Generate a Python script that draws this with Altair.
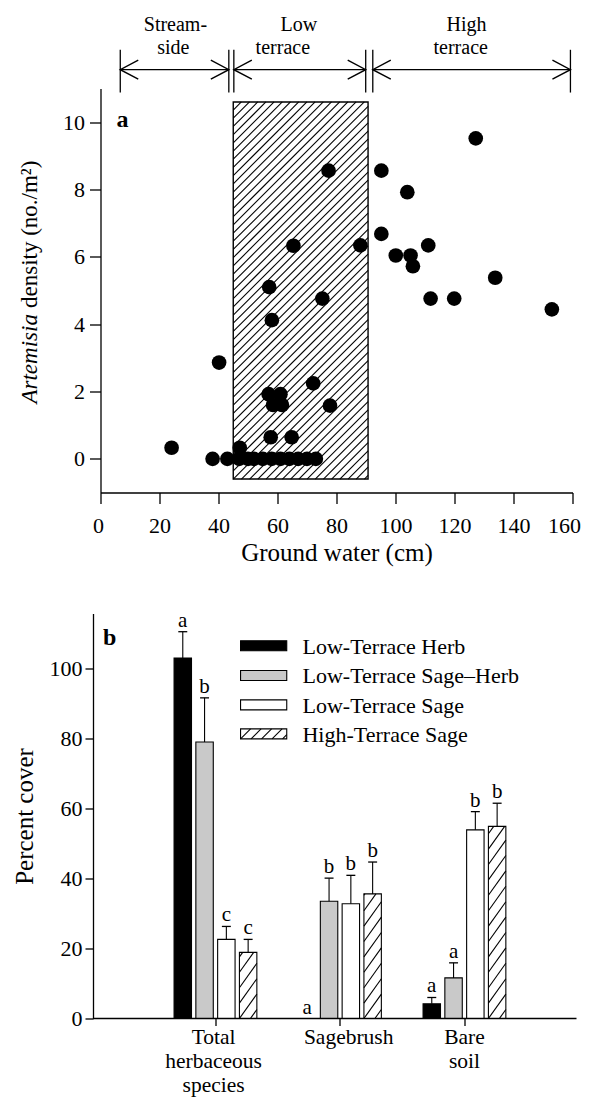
import altair as alt
import pandas as pd

FONT = "Liberation Serif"

# ---------------- Panel a data ----------------
water_cm = [38, 43, 47, 50, 52, 55, 58, 61, 64, 67, 70, 73,
            24.1, 47.2, 57.7, 64.8, 57.0, 61.0, 58.5, 61.5, 77.8, 72.1, 40.2,
            58.1, 75.2, 57.2, 65.4, 88.1, 77.3, 95.2, 104.0, 95.2, 111.1,
            100.1, 105.1, 105.9, 133.8, 111.9, 119.9, 153.0, 127.2]
density = [0, 0, 0, 0, 0, 0, 0, 0, 0, 0, 0, 0,
           0.33, 0.33, 0.64, 0.64, 1.92, 1.92, 1.6, 1.6, 1.58, 2.24, 2.86,
           4.12, 4.76, 5.10, 6.33, 6.34, 8.56, 8.56, 7.92, 6.68, 6.34,
           6.04, 6.04, 5.72, 5.38, 4.76, 4.76, 4.44, 9.52]

# low-terrace shaded zone (ground water range, density range)
low_zone_x = [45.0, 90.7]
low_zone_y = [-0.6, 10.6]

# zone arrows above the plot
zone_start = [6.7, 45.2, 92.3]
zone_end = [43.5, 89.9, 159.3]
zone_line1 = ["Stream-", "Low", "High"]
zone_line2 = ["side", "terrace", "terrace"]
zone_line1_x = [25.4, 67.2, 124.1]
zone_line2_x = [24.7, 61.8, 122.1]

# ---------------- Panel b data ----------------
cat_names = ["Total\nherbaceous\nspecies", "Sagebrush", "Bare\nsoil"]
cat_label_x = [0.985, 2.07, 3.0]
series_names = ["Low-Terrace Herb", "Low-Terrace Sage\u2013Herb",
                "Low-Terrace Sage", "High-Terrace Sage"]
cover_herb = [103.0, 0.0, 4.2]
cover_sageherb = [79.0, 33.5, 11.6]
cover_sage = [22.6, 32.8, 53.9]
cover_high = [18.9, 35.6, 54.9]
se_herb = [7.5, 0.0, 1.8]
se_sageherb = [12.6, 6.6, 4.3]
se_sage = [3.7, 8.1, 5.2]
se_high = [3.7, 9.1, 6.6]
let_herb = ["a", "a", "a"]
let_sageherb = ["b", "b", "a"]
let_sage = ["c", "b", "b"]
let_high = ["c", "b", "b"]
legend_y = [106.5, 98.0, 89.6, 81.3]

# ---------------- geometry ----------------
WA, HA = 472, 404
XA_DOM, YA_DOM = [0, 160], [-1, 11]
WB, HB = 476, 405
XB_DOM, YB_DOM = [0.0766, 3.9], [0, 115.7]
SXA = WA / (XA_DOM[1] - XA_DOM[0]); SYA = HA / (YA_DOM[1] - YA_DOM[0])
SXB = WB / (XB_DOM[1] - XB_DOM[0]); SYB = HB / (YB_DOM[1] - YB_DOM[0])


def hatch(x0, x1, y0, y1, sx, sy, period, slope):
    """diagonal '/' hatch lines clipped to a rectangle (data units)."""
    X0, X1, Y0, Y1 = x0 * sx, x1 * sx, y0 * sy, y1 * sy
    H = Y1 - Y0
    segs = []
    n = int(H / slope / period) + 2
    c = X0 - n * period
    while c < X1:
        xs = max(c, X0)
        xe = min(c + H / slope, X1)
        if xe > xs + 0.4:
            ys = Y0 + slope * (xs - c)
            ye = Y0 + slope * (xe - c)
            segs.append({"x": xs / sx, "y": ys / sy, "x2": xe / sx, "y2": ye / sy})
        c += period
    return segs


# ================= Panel a =================
scx_a = alt.Scale(domain=XA_DOM, nice=False, zero=False)
scy_a = alt.Scale(domain=YA_DOM, nice=False, zero=False)
ax_x_a = alt.Axis(values=list(range(0, 161, 20)), title="Ground water (cm)", tickSize=11,
                  labelPadding=12, labelFontSize=22, titleFontSize=25, titlePadding=4,
                  labelFont=FONT, titleFont=FONT, grid=False, labelFlush=True,
                  labelFlushOffset=8)
ax_y_a = alt.Axis(values=[0, 2, 4, 6, 8, 10], title=None, tickSize=11, labelPadding=5,
                  labelFontSize=22, labelFont=FONT, grid=False)


def XA(f="x"):
    return alt.X(f"{f}:Q", scale=scx_a, axis=ax_x_a)


def YA(f="y"):
    return alt.Y(f"{f}:Q", scale=scy_a, axis=ax_y_a)


pts = pd.DataFrame({"x": water_cm, "y": density})
zone_df = pd.DataFrame([{"x": low_zone_x[0], "x2": low_zone_x[1],
                         "y": low_zone_y[0], "y2": low_zone_y[1]}])
hatch_a = pd.DataFrame(hatch(low_zone_x[0], low_zone_x[1], low_zone_y[0], low_zone_y[1],
                             SXA, SYA, 8.2, 1.0))

ARROW_Y = 11.56
BAR_Y = [10.88, 12.15]
arrow_lines = pd.DataFrame({"x": zone_start, "x2": zone_end, "y": [ARROW_Y] * 3})
bars_v = pd.DataFrame({"x": zone_start + zone_end, "y": [BAR_Y[0]] * 6, "y2": [BAR_Y[1]] * 6})
heads_left = pd.DataFrame({"x": zone_start, "y": [ARROW_Y] * 3})
heads_right = pd.DataFrame({"x": zone_end, "y": [ARROW_Y] * 3})
hdr1 = pd.DataFrame({"x": zone_line1_x, "y": [12.70] * 3, "t": zone_line1})
hdr2 = pd.DataFrame({"x": zone_line2_x, "y": [12.03] * 3, "t": zone_line2})

a_layers = [
    alt.Chart(zone_df).mark_rect(fill="white", stroke="black", strokeWidth=1.4).encode(
        x=XA(), x2="x2:Q", y=YA(), y2="y2:Q"),
    alt.Chart(hatch_a).mark_rule(color="black", strokeWidth=1.1).encode(
        x=XA(), x2="x2:Q", y=YA(), y2="y2:Q"),
    alt.Chart(pts).mark_circle(size=215, color="black", opacity=1).encode(x=XA(), y=YA()),
    alt.Chart(arrow_lines).mark_rule(color="black", strokeWidth=1.3).encode(
        x=XA(), x2="x2:Q", y=YA()),
    alt.Chart(bars_v).mark_rule(color="black", strokeWidth=1.3).encode(
        x=XA(), y=YA(), y2="y2:Q"),
    alt.Chart(heads_left).mark_point(shape="M2,-1.05L0,0L2,1.05", size=324, filled=False,
                                     color="black", strokeWidth=1.4, opacity=1).encode(
        x=XA(), y=YA()),
    alt.Chart(heads_right).mark_point(shape="M-2,-1.05L0,0L-2,1.05", size=324, filled=False,
                                      color="black", strokeWidth=1.4, opacity=1).encode(
        x=XA(), y=YA()),
    alt.Chart(hdr1).mark_text(fontSize=20, font=FONT, align="center", baseline="alphabetic",
                              color="black").encode(x=XA(), y=YA(), text="t:N"),
    alt.Chart(hdr2).mark_text(fontSize=20, font=FONT, align="center", baseline="alphabetic",
                              color="black").encode(x=XA(), y=YA(), text="t:N"),
    alt.Chart(pd.DataFrame({"x": [5.4], "y": [9.85], "t": ["a"]})).mark_text(
        fontSize=24, font=FONT, fontWeight="bold", align="left", baseline="alphabetic",
        color="black").encode(x=XA(), y=YA(), text="t:N"),
    alt.Chart(pd.DataFrame({"y": [4.3], "t": ["Artemisia"]})).mark_text(
        fontSize=23, font=FONT, fontStyle="italic", angle=270, align="right",
        baseline="middle", color="black").encode(x=alt.value(-71), y=YA(), text="t:N"),
    alt.Chart(pd.DataFrame({"y": [4.48], "t": ["density (no./m\u00b2)"]})).mark_text(
        fontSize=23, font=FONT, angle=270, align="left",
        baseline="middle", color="black").encode(x=alt.value(-71), y=YA(), text="t:N"),
]
panel_a = alt.layer(*a_layers).properties(width=WA, height=HA)

# ================= Panel b =================
scx_b = alt.Scale(domain=XB_DOM, nice=False, zero=False)
scy_b = alt.Scale(domain=YB_DOM, nice=False, zero=False)
ax_x_b = alt.Axis(values=[1, 2, 3], labels=False, title=None, tickSize=7, domain=False,
                  grid=False)
ax_y_b = alt.Axis(values=[0, 20, 40, 60, 80, 100], title="Percent cover", tickSize=8,
                  labelPadding=3, labelFontSize=22, titleFontSize=25, titlePadding=12,
                  labelFont=FONT, titleFont=FONT, offset=7.5, grid=False)


def XB(f="x"):
    return alt.X(f"{f}:Q", scale=scx_b, axis=ax_x_b)


def YB(f="y"):
    return alt.Y(f"{f}:Q", scale=scy_b, axis=ax_y_b)


OFFS = [-1.5, -0.5, 0.5, 1.5]
STEP, HALF = 0.175, 0.07
vals = [cover_herb, cover_sageherb, cover_sage, cover_high]
ses = [se_herb, se_sageherb, se_sage, se_high]
lets = [let_herb, let_sageherb, let_sage, let_high]
rows = []
for i, s in enumerate(series_names):
    for j in range(3):
        c = (j + 1) + OFFS[i] * STEP
        v = vals[i][j]
        rows.append({"series": s, "cx": c, "x": c - HALF, "x2": c + HALF, "y": 0.0, "y2": v,
                     "top": v + ses[i][j], "se": ses[i][j], "letter": lets[i][j],
                     "cl": c - 0.036, "cr": c + 0.036})
bdf = pd.DataFrame(rows)
bars_df = bdf[bdf["y2"] > 0]
err_df = bdf[bdf["se"] > 0]

hatch_rows = []
for _, r in bdf[bdf["series"] == series_names[3]].iterrows():
    hatch_rows += hatch(r["x"], r["x2"], 0, r["y2"], SXB, SYB, 11.0, 1.4)
leg_rows = []
for i, s in enumerate(series_names):
    leg_rows.append({"series": s, "x": 1.2016, "x2": 1.5726, "y": legend_y[i] - 1.43,
                     "y2": legend_y[i] + 1.43, "tx": 1.699, "ty": legend_y[i]})
leg_df = pd.DataFrame(leg_rows)
hatch_rows += hatch(1.2016, 1.5726, legend_y[3] - 1.43, legend_y[3] + 1.43, SXB, SYB, 10.5, 1.0)
hatch_b = pd.DataFrame(hatch_rows)

fill_scale = alt.Scale(domain=series_names, range=["black", "#c9c9c9", "white", "white"])
cats_df = pd.DataFrame({"x": cat_label_x, "y": [0, 0, 0], "t": cat_names})

b_layers = [
    alt.Chart(bars_df).mark_rect(stroke="black", strokeWidth=1.1).encode(
        x=XB(), x2="x2:Q", y=YB(), y2="y2:Q",
        fill=alt.Fill("series:N", scale=fill_scale, legend=None)),
    alt.Chart(leg_df).mark_rect(stroke="black", strokeWidth=1.1).encode(
        x=XB(), x2="x2:Q", y=YB(), y2="y2:Q",
        fill=alt.Fill("series:N", scale=fill_scale, legend=None)),
    alt.Chart(hatch_b).mark_rule(color="black", strokeWidth=1.1).encode(
        x=XB(), x2="x2:Q", y=YB(), y2="y2:Q"),
    alt.Chart(err_df).mark_rule(color="black", strokeWidth=1.1).encode(
        x=XB("cx"), y=YB("y2"), y2="top:Q"),
    alt.Chart(err_df).mark_rule(color="black", strokeWidth=1.3).encode(
        x=XB("cl"), x2="cr:Q", y=YB("top")),
    alt.Chart(bdf).mark_text(fontSize=21, font=FONT, align="center", baseline="alphabetic",
                             dy=-5, color="black").encode(
        x=XB("cx"), y=YB("top"), text="letter:N"),
    alt.Chart(leg_df).mark_text(fontSize=22, font=FONT, align="left", baseline="middle",
                                dy=1, color="black").encode(
        x=XB("tx"), y=YB("ty"), text="series:N"),
    alt.Chart(pd.DataFrame({"x": [0.016], "x2": [3.9], "y": [0]})).mark_rule(
        color="black", strokeWidth=1.3).encode(x=XB(), x2="x2:Q", y=YB()),
    alt.Chart(cats_df).mark_text(fontSize=21.5, font=FONT, align="center",
                                 baseline="alphabetic", dy=25, lineBreak="\n", lineHeight=24,
                                 color="black").encode(
        x=XB(), y=YB(), text="t:N"),
    alt.Chart(pd.DataFrame({"x": [0.097], "y": [106.6], "t": ["b"]})).mark_text(
        fontSize=24, font=FONT, fontWeight="bold", align="left", baseline="alphabetic",
        color="black").encode(x=XB(), y=YB(), text="t:N"),
]
panel_b = alt.layer(*b_layers).properties(width=WB, height=HB)

chart = alt.vconcat(panel_a, panel_b, spacing=44).properties(
    padding={"left": 3.5, "top": 6.5, "right": 0, "bottom": 0}
).configure(font=FONT).configure_view(stroke=None).configure_axis(
    labelFont=FONT, titleFont=FONT, labelColor="black", titleColor="black",
    titleFontWeight="normal", domainColor="black", tickColor="black",
    domainWidth=1.3, tickWidth=1.3
)

chart.save("out.html", embed_options={"renderer": "svg", "actions": False})
